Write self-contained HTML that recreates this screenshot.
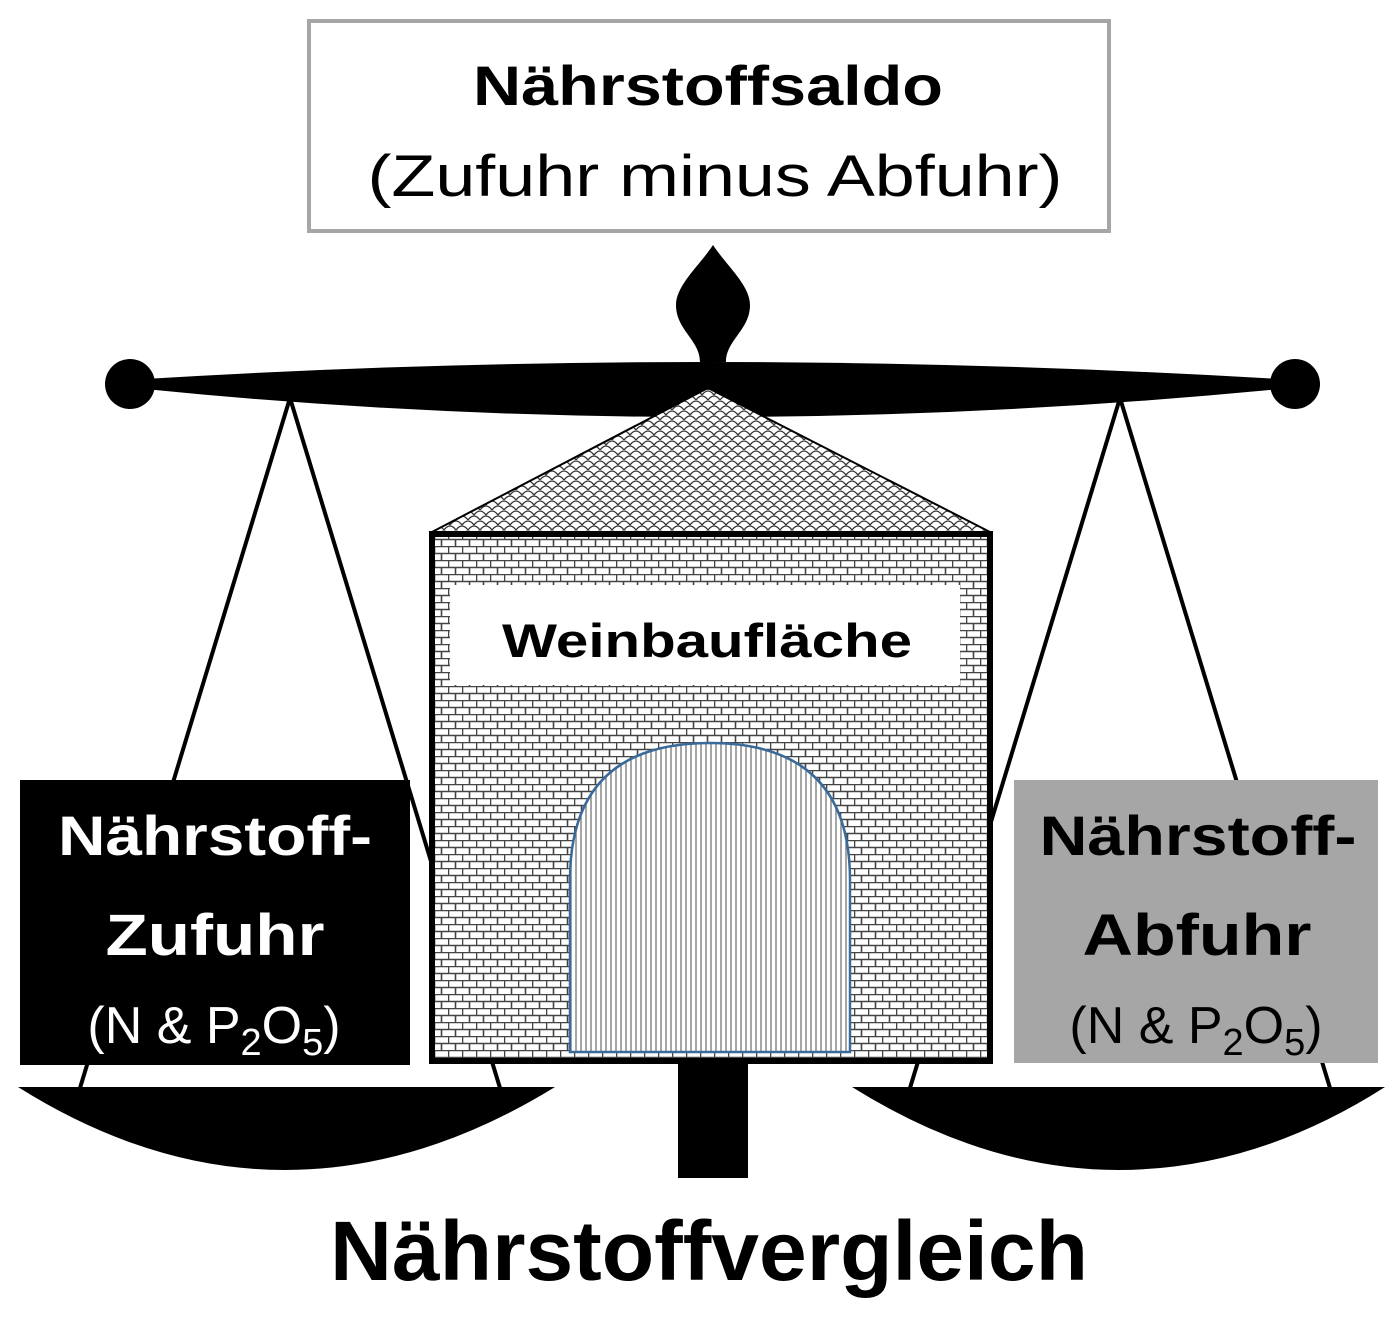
<!DOCTYPE html>
<html><head><meta charset="utf-8"><style>
html,body{margin:0;padding:0;background:#fff;}
svg{display:block;}
text{font-family:"Liberation Sans",sans-serif;}
</style></head><body>
<svg width="1400" height="1324" viewBox="0 0 1400 1324" xmlns="http://www.w3.org/2000/svg">
<defs>
<pattern id="brick" width="14" height="14" patternUnits="userSpaceOnUse">
<rect width="14" height="14" fill="#fff"/>
<path d="M0,0.5H14M0,7.5H14M0.5,0V7M7.5,7V14" stroke="#444" stroke-width="1.6"/>
</pattern>
<pattern id="scale" width="12" height="10" patternUnits="userSpaceOnUse">
<rect width="12" height="10" fill="#fff"/>
<path d="M0,10 Q6,2 12,10 M-6,5 Q0,-3 6,5 M6,5 Q12,-3 18,5" stroke="#333" stroke-width="1.3" fill="none"/>
</pattern>
<pattern id="vline" width="5" height="10" patternUnits="userSpaceOnUse">
<rect width="5" height="10" fill="#fff"/>
<path d="M1,0V10" stroke="#777" stroke-width="1.3"/>
</pattern>
</defs>

<rect x="309" y="21" width="800" height="210" fill="#fff" stroke="#a6a6a6" stroke-width="4"/>
<text x="708" y="105" font-size="56" font-weight="bold" text-anchor="middle" textLength="470" lengthAdjust="spacingAndGlyphs">Nährstoffsaldo</text>
<text x="715" y="196" font-size="58" text-anchor="middle" textLength="695" lengthAdjust="spacingAndGlyphs">(Zufuhr minus Abfuhr)</text>

<g stroke="#000" stroke-width="4">
<line x1="290" y1="398" x2="80" y2="1088"/>
<line x1="290" y1="398" x2="500" y2="1088"/>
<line x1="1120" y1="398" x2="910" y2="1088"/>
<line x1="1120" y1="398" x2="1330" y2="1088"/>
</g>

<path d="M713,245 C700,265 676,285 676,305 C676,330 700,340 700,362 L726,362 C726,340 750,330 750,305 C750,285 726,265 713,245 Z" fill="#000"/>
<path d="M145,379 Q700,345 1280,379 L1280,389 Q700,445 145,389 Z" fill="#000"/>
<circle cx="130" cy="384" r="25" fill="#000"/>
<circle cx="1295" cy="384" r="25" fill="#000"/>

<path d="M18,1087 L555,1087 Q420,1170 285,1170 Q150,1170 18,1087 Z" fill="#000"/>
<path d="M852,1087 L1385,1087 Q1255,1170 1118,1170 Q985,1170 852,1087 Z" fill="#000"/>

<rect x="678" y="1060" width="70" height="118" fill="#000"/>

<polygon points="432,532 708,388 990,532" fill="url(#scale)" stroke="#000" stroke-width="2"/>
<rect x="432" y="534" width="558" height="527" fill="url(#brick)" stroke="#000" stroke-width="6"/>
<rect x="450" y="585" width="510" height="100" fill="#fff"/>
<text x="707" y="657" font-size="47" font-weight="bold" text-anchor="middle" textLength="410" lengthAdjust="spacingAndGlyphs">Weinbaufläche</text>
<path d="M570,1052 L570,880 Q570,743 710,743 Q850,743 850,880 L850,1052 Z" fill="url(#vline)" stroke="#3a6a9a" stroke-width="2.5"/>

<rect x="20" y="780" width="390" height="285" fill="#000"/>
<g fill="#fff" text-anchor="middle">
<text x="215" y="855" font-size="56" font-weight="bold" textLength="314" lengthAdjust="spacingAndGlyphs">Nährstoff-</text>
<text x="215" y="955" font-size="58" font-weight="bold" textLength="219" lengthAdjust="spacingAndGlyphs">Zufuhr</text>
<text x="214" y="1043" font-size="52">(N &amp; P<tspan font-size="38" dy="12">2</tspan><tspan dy="-12">O</tspan><tspan font-size="38" dy="12">5</tspan><tspan dy="-12">)</tspan></text>
</g>

<rect x="1014" y="780" width="364" height="283" fill="#a6a6a6"/>
<g fill="#000" text-anchor="middle">
<text x="1198" y="855" font-size="56" font-weight="bold" textLength="317" lengthAdjust="spacingAndGlyphs">Nährstoff-</text>
<text x="1197" y="955" font-size="58" font-weight="bold" textLength="229" lengthAdjust="spacingAndGlyphs">Abfuhr</text>
<text x="1196" y="1043" font-size="52">(N &amp; P<tspan font-size="38" dy="12">2</tspan><tspan dy="-12">O</tspan><tspan font-size="38" dy="12">5</tspan><tspan dy="-12">)</tspan></text>
</g>

<text x="709" y="1280" font-size="84" font-weight="bold" text-anchor="middle" textLength="758" lengthAdjust="spacingAndGlyphs">Nährstoffvergleich</text>
</svg>
</body></html>
